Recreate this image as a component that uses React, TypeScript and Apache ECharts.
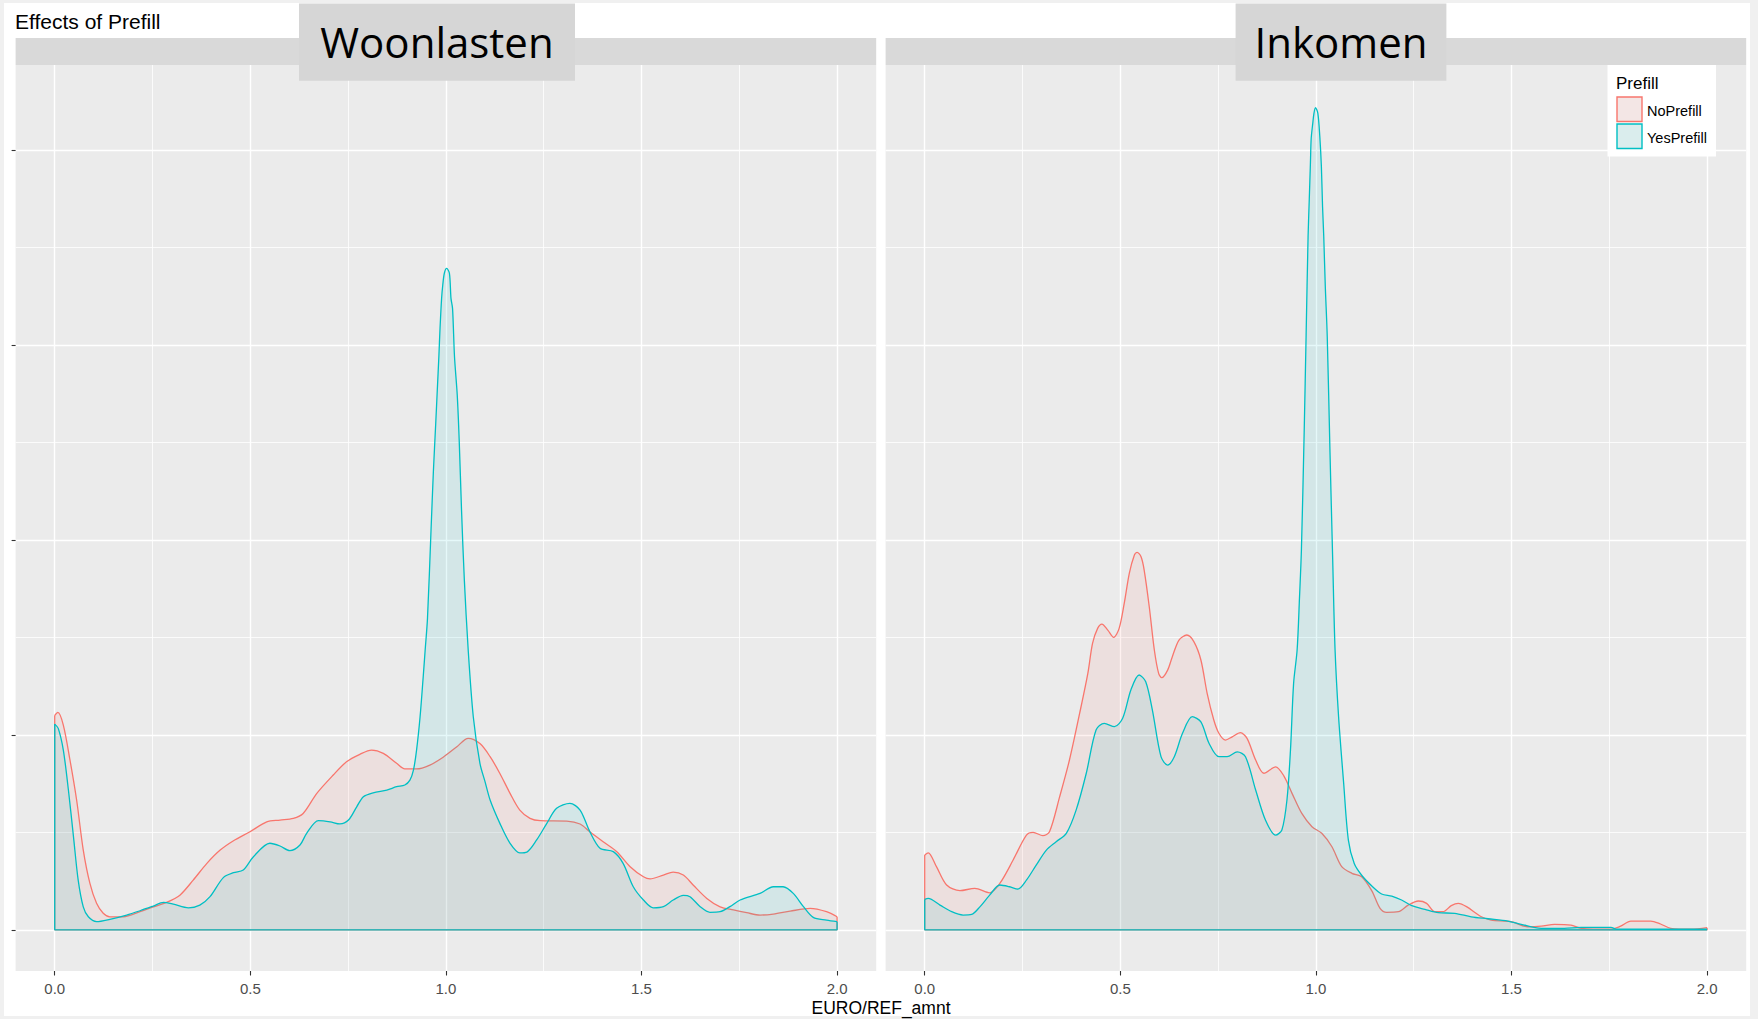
import React, { useEffect, useRef } from "react";
import * as echarts from "echarts";

// ---- data ----
const panelTitles = ["Woonlasten", "Inkomen"];
const groupNames = ["NoPrefill", "YesPrefill"];
const xTickValues = [0, 0.5, 1, 1.5, 2];
const xMinorValues = [0.25, 0.75, 1.25, 1.75];
const yTickValues = [0, 1, 2, 3, 4];
const yMinorValues = [0.5, 1.5, 2.5, 3.5];
const xAxisTitle = "EURO/REF_amnt";
const chartTitle = "Effects of Prefill";

const woonlastenNoPrefill: [number, number][] = [
  [0.0, 1.1], [0.008, 1.115], [0.022, 1.05], [0.039, 0.871], [0.056, 0.666], [0.073, 0.409],
  [0.09, 0.238], [0.107, 0.136], [0.124, 0.085], [0.141, 0.067], [0.175, 0.067], [0.218, 0.093],
  [0.252, 0.118], [0.286, 0.141], [0.32, 0.178], [0.354, 0.255], [0.389, 0.341], [0.423, 0.409],
  [0.457, 0.457], [0.499, 0.503], [0.542, 0.554], [0.576, 0.563], [0.61, 0.572], [0.635, 0.597],
  [0.67, 0.7], [0.712, 0.794], [0.746, 0.862], [0.78, 0.9], [0.81, 0.922], [0.84, 0.905],
  [0.874, 0.854], [0.895, 0.825], [0.925, 0.825], [0.959, 0.845], [0.993, 0.885], [1.028, 0.939],
  [1.057, 0.982], [1.087, 0.955], [1.113, 0.888], [1.138, 0.802], [1.164, 0.7], [1.189, 0.614],
  [1.215, 0.572], [1.241, 0.56], [1.309, 0.558], [1.343, 0.543], [1.368, 0.503], [1.402, 0.452],
  [1.437, 0.401], [1.471, 0.324], [1.505, 0.272], [1.522, 0.261], [1.556, 0.281], [1.581, 0.296],
  [1.607, 0.281], [1.632, 0.23], [1.667, 0.161], [1.701, 0.118], [1.735, 0.102], [1.769, 0.088],
  [1.803, 0.076], [1.837, 0.081], [1.88, 0.096], [1.931, 0.11], [1.973, 0.093], [2.0, 0.067],
];

const woonlastenYesPrefill: [number, number][] = [
  [0.0, 1.055], [0.009, 1.033], [0.022, 0.922], [0.035, 0.717], [0.048, 0.477], [0.06, 0.255],
  [0.073, 0.118], [0.086, 0.067], [0.107, 0.042], [0.141, 0.054], [0.184, 0.076], [0.218, 0.098],
  [0.252, 0.122], [0.278, 0.141], [0.303, 0.132], [0.342, 0.113], [0.371, 0.127], [0.397, 0.17],
  [0.431, 0.268], [0.457, 0.293], [0.482, 0.307], [0.508, 0.375], [0.55, 0.444], [0.576, 0.43],
  [0.601, 0.406], [0.627, 0.435], [0.644, 0.495], [0.674, 0.56], [0.704, 0.554], [0.729, 0.543],
  [0.751, 0.563], [0.772, 0.631], [0.789, 0.683], [0.814, 0.703], [0.849, 0.717], [0.874, 0.734],
  [0.895, 0.743], [0.908, 0.768], [0.917, 0.819], [0.925, 0.922], [0.934, 1.093], [0.942, 1.298],
  [0.947, 1.435], [0.953, 1.6], [0.962, 2.05], [0.968, 2.35], [0.974, 2.597], [0.978, 2.768],
  [0.982, 2.939], [0.985, 3.085], [0.989, 3.238], [0.992, 3.307], [0.996, 3.367], [1.002, 3.392],
  [1.009, 3.367], [1.013, 3.238], [1.017, 3.187], [1.022, 2.939], [1.029, 2.742], [1.034, 2.511],
  [1.04, 2.15], [1.047, 1.8], [1.057, 1.435], [1.07, 1.093], [1.087, 0.854], [1.1, 0.76],
  [1.113, 0.666], [1.138, 0.546], [1.164, 0.444], [1.189, 0.395], [1.207, 0.399], [1.232, 0.461],
  [1.258, 0.546], [1.283, 0.623], [1.317, 0.649], [1.343, 0.614], [1.368, 0.503], [1.394, 0.418],
  [1.428, 0.401], [1.453, 0.341], [1.479, 0.221], [1.505, 0.153], [1.53, 0.113], [1.556, 0.119],
  [1.581, 0.153], [1.607, 0.177], [1.624, 0.17], [1.65, 0.119], [1.675, 0.09], [1.701, 0.093],
  [1.726, 0.119], [1.752, 0.153], [1.803, 0.187], [1.837, 0.221], [1.862, 0.221], [1.888, 0.187],
  [1.914, 0.119], [1.939, 0.064], [1.973, 0.05], [2.0, 0.042],
];

const inkomenNoPrefill: [number, number][] = [
  [0.0, 0.384], [0.009, 0.395], [0.03, 0.324], [0.056, 0.23], [0.09, 0.201], [0.128, 0.213],
  [0.166, 0.19], [0.192, 0.238], [0.226, 0.358], [0.26, 0.486], [0.277, 0.5], [0.302, 0.483],
  [0.319, 0.503], [0.345, 0.683], [0.37, 0.871], [0.396, 1.11], [0.417, 1.315], [0.429, 1.469],
  [0.442, 1.546], [0.453, 1.568], [0.468, 1.537], [0.483, 1.5], [0.497, 1.546], [0.51, 1.674],
  [0.523, 1.828], [0.536, 1.922], [0.543, 1.936], [0.553, 1.913], [0.561, 1.845], [0.574, 1.657],
  [0.587, 1.435], [0.598, 1.315], [0.606, 1.293], [0.621, 1.332], [0.633, 1.401], [0.65, 1.486],
  [0.67, 1.512], [0.688, 1.478], [0.706, 1.384], [0.722, 1.213], [0.739, 1.076], [0.752, 1.008],
  [0.769, 0.973], [0.786, 0.99], [0.807, 1.011], [0.824, 0.982], [0.846, 0.871], [0.867, 0.803],
  [0.897, 0.836], [0.918, 0.79], [0.939, 0.7], [0.964, 0.597], [0.99, 0.529], [1.015, 0.495],
  [1.041, 0.426], [1.066, 0.324], [1.092, 0.29], [1.117, 0.272], [1.143, 0.2], [1.164, 0.11],
  [1.181, 0.09], [1.211, 0.093], [1.236, 0.127], [1.262, 0.148], [1.283, 0.136], [1.304, 0.093],
  [1.325, 0.093], [1.346, 0.124], [1.364, 0.136], [1.385, 0.119], [1.423, 0.067], [1.448, 0.05],
  [1.499, 0.042], [1.542, 0.016], [1.576, 0.019], [1.61, 0.028], [1.652, 0.024], [1.678, 0.008],
  [1.754, 0.003], [1.779, 0.019], [1.805, 0.045], [1.856, 0.045], [1.881, 0.03], [1.907, 0.008],
  [1.96, 0.003], [2.0, 0.011],
];

const inkomenYesPrefill: [number, number][] = [
  [0.0, 0.156], [0.009, 0.161], [0.039, 0.127], [0.069, 0.093], [0.098, 0.076], [0.12, 0.079],
  [0.141, 0.118], [0.166, 0.178], [0.192, 0.23], [0.217, 0.221], [0.238, 0.209], [0.26, 0.255],
  [0.285, 0.332], [0.311, 0.409], [0.336, 0.452], [0.362, 0.495], [0.387, 0.614], [0.413, 0.803],
  [0.438, 1.025], [0.459, 1.059], [0.485, 1.042], [0.506, 1.085], [0.527, 1.23], [0.548, 1.307],
  [0.565, 1.272], [0.582, 1.127], [0.604, 0.888], [0.621, 0.845], [0.638, 0.888], [0.659, 1.008],
  [0.684, 1.093], [0.706, 1.067], [0.727, 0.956], [0.752, 0.888], [0.773, 0.888], [0.799, 0.913],
  [0.82, 0.888], [0.846, 0.717], [0.871, 0.563], [0.897, 0.486], [0.913, 0.512], [0.926, 0.666],
  [0.935, 0.922], [0.943, 1.264], [0.952, 1.435], [0.958, 1.7], [0.963, 1.95], [0.97, 2.55],
  [0.975, 3.05], [0.98, 3.554], [0.983, 3.743], [0.986, 3.931], [0.988, 4.059], [0.992, 4.136],
  [0.995, 4.187], [0.999, 4.216], [1.005, 4.187], [1.01, 4.068], [1.014, 3.914], [1.017, 3.709],
  [1.02, 3.56], [1.024, 3.3], [1.029, 3.043], [1.036, 2.45], [1.043, 1.893], [1.049, 1.435],
  [1.058, 1.093], [1.071, 0.751], [1.083, 0.46], [1.098, 0.34], [1.117, 0.28], [1.143, 0.225],
  [1.168, 0.184], [1.194, 0.173], [1.219, 0.153], [1.245, 0.124], [1.279, 0.105], [1.313, 0.088],
  [1.355, 0.085], [1.397, 0.067], [1.44, 0.057], [1.491, 0.045], [1.525, 0.028], [1.576, 0.008],
  [1.635, 0.008], [1.678, 0.013], [1.754, 0.013], [1.77, 0.003], [2.0, 0.003],
];

const panelData = [
  [woonlastenNoPrefill, woonlastenYesPrefill],
  [inkomenNoPrefill, inkomenYesPrefill],
];

// ---- styling ----
const COLORS = ["#F8766D", "#00BFC4"];
const FILLS = ["rgba(248,118,109,0.1)", "rgba(0,191,196,0.1)"];
const KEY_FILLS = ["rgb(243,230,229)", "rgb(218,237,237)"];
const SANS = "'Liberation Sans', Arial, sans-serif";
const X_MIN = -0.1;
const X_MAX = 2.1;
const Y_MIN = -0.211;
const Y_MAX = 4.435;
const GRID_LEFTS = [15.6, 885.6];
const GRID_W = 860.6;
const GRID_TOP = 65;
const GRID_H = 906;

function buildOption() {
  const grid: any[] = [];
  const xAxis: any[] = [];
  const yAxis: any[] = [];
  const series: any[] = [];

  GRID_LEFTS.forEach((left, i) => {
    grid.push({
      left, top: GRID_TOP, width: GRID_W, height: GRID_H,
      show: true, backgroundColor: "#ebebeb", borderWidth: 0,
    });
    // major x
    xAxis.push({
      type: "value", gridIndex: i, min: X_MIN, max: X_MAX, position: "bottom",
      axisLine: { show: false, onZero: false },
      axisTick: { show: true, customValues: xTickValues, length: 4.5, lineStyle: { color: "#333333", width: 1.1 } },
      axisLabel: {
        show: true, customValues: xTickValues, margin: 9.5, color: "#4d4d4d", fontSize: 15, fontFamily: SANS,
        formatter: (v: number) => v.toFixed(1),
      },
      splitLine: { show: true, lineStyle: { color: "#ffffff", width: 1.4 } },
    });
    // minor x
    xAxis.push({
      type: "value", gridIndex: i, min: X_MIN, max: X_MAX, position: "bottom",
      axisLine: { show: false, onZero: false },
      axisTick: { show: false, customValues: xMinorValues },
      axisLabel: { show: false, customValues: xMinorValues },
      splitLine: { show: true, lineStyle: { color: "#ffffff", width: 0.8 } },
    });
    // major y
    yAxis.push({
      type: "value", gridIndex: i, min: Y_MIN, max: Y_MAX, position: "left",
      axisLine: { show: false, onZero: false },
      axisTick: { show: i === 0, customValues: yTickValues, length: 4, lineStyle: { color: "#333333", width: 1.1 } },
      axisLabel: { show: false, customValues: yTickValues },
      splitLine: { show: true, lineStyle: { color: "#ffffff", width: 1.4 } },
    });
    // minor y
    yAxis.push({
      type: "value", gridIndex: i, min: Y_MIN, max: Y_MAX, position: "left",
      axisLine: { show: false, onZero: false },
      axisTick: { show: false, customValues: yMinorValues },
      axisLabel: { show: false, customValues: yMinorValues },
      splitLine: { show: true, lineStyle: { color: "#ffffff", width: 0.8 } },
    });

    panelData[i].forEach((pts, g) => {
      const first = pts[0];
      const last = pts[pts.length - 1];
      series.push({
        name: groupNames[g] + "-" + panelTitles[i],
        type: "line", xAxisIndex: i * 2, yAxisIndex: i * 2,
        data: pts, smooth: 0.3, symbol: "none", showSymbol: false,
        lineStyle: { color: COLORS[g], width: 1.3 },
        areaStyle: { color: FILLS[g], opacity: 1 },
        silent: true, emphasis: { disabled: true }, z: 2 + g * 2,
      });
      series.push({
        name: groupNames[g] + "-" + panelTitles[i] + "-edge",
        type: "line", xAxisIndex: i * 2, yAxisIndex: i * 2,
        data: [[first[0], first[1]], [first[0], 0], [last[0], 0], [last[0], last[1]]],
        symbol: "none", showSymbol: false,
        lineStyle: { color: COLORS[g], width: 1.3 },
        silent: true, emphasis: { disabled: true }, z: 3 + g * 2,
      });
    });
  });

  const strips: any[] = [];
  GRID_LEFTS.forEach((left) => {
    strips.push({ type: "rect", shape: { x: left, y: 38, width: GRID_W, height: 27 }, style: { fill: "#d9d9d9" }, z: 100 });
  });
  const boxes = [
    { x: 299, w: 276, cx: 437 },
    { x: 1235.6, w: 210.8, cx: 1341 },
  ];
  boxes.forEach((b, i) => {
    strips.push({ type: "rect", shape: { x: b.x, y: 3.4, width: b.w, height: 77.3 }, style: { fill: "#d6d6d6" }, z: 101 });
    strips.push({
      type: "text", x: b.cx, y: 41, z: 102,
      style: { text: panelTitles[i], fill: "#000000", font: "42px 'Open Sans', 'Noto Sans', sans-serif", align: "center", verticalAlign: "middle" },
    });
  });

  const legend: any[] = [
    { type: "rect", shape: { x: 1607.5, y: 65, width: 108.5, height: 91.5 }, style: { fill: "#ffffff" }, z: 110 },
    { type: "text", x: 1616, y: 83.5, z: 111, style: { text: "Prefill", fill: "#000000", font: `17px ${SANS}`, verticalAlign: "middle" } },
  ];
  groupNames.forEach((n, g) => {
    const ky = 97 + g * 27;
    legend.push({ type: "rect", shape: { x: 1617, y: ky, width: 25, height: 24.5 }, style: { fill: KEY_FILLS[g], stroke: COLORS[g], lineWidth: 1.4 }, z: 111 });
    legend.push({ type: "text", x: 1647, y: ky + 13.5, z: 111, style: { text: n, fill: "#000000", font: `14.5px ${SANS}`, verticalAlign: "middle" } });
  });

  const texts: any[] = [
    { type: "text", x: 15, y: 21.5, z: 120, style: { text: chartTitle, fill: "#000000", font: `21px ${SANS}`, verticalAlign: "middle" } },
    { type: "text", x: 881, y: 1008, z: 120, style: { text: xAxisTitle, fill: "#000000", font: `17.5px ${SANS}`, align: "center", verticalAlign: "middle" } },
  ];

  return {
    animation: false,
    grid, xAxis, yAxis, series,
    graphic: { elements: [...strips, ...legend, ...texts] },
  };
}

export default function App() {
  const ref = useRef<HTMLDivElement>(null);
  useEffect(() => {
    if (!ref.current) return;
    const chart = echarts.init(ref.current, undefined, { renderer: "svg" });
    chart.setOption(buildOption() as any);
    return () => chart.dispose();
  }, []);
  return (
    <div style={{ position: "fixed", left: 0, top: 0, width: 1758, height: 1019, background: "#f0f0f0", overflow: "hidden" }}>
      <div style={{ position: "absolute", left: 4, top: 3, width: 1746, height: 1013, background: "#ffffff" }} />
      <div ref={ref} style={{ position: "absolute", left: 0, top: 0, width: 1758, height: 1019 }} />
    </div>
  );
}
